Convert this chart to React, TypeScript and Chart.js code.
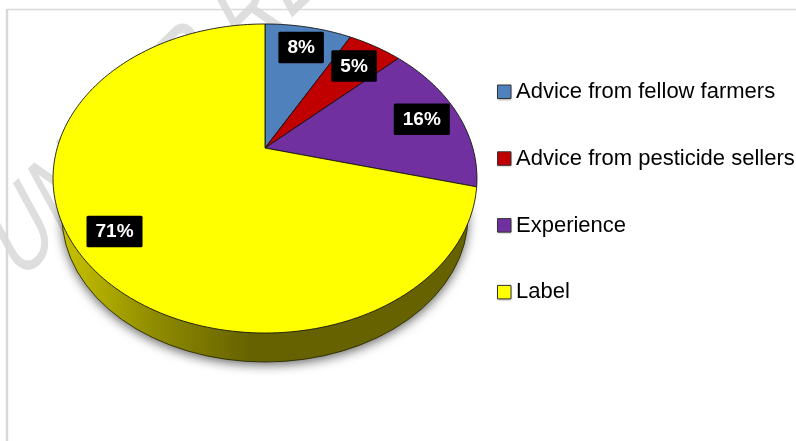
import React, { useEffect, useRef } from "react";
import { Chart, registerables } from "chart.js";

Chart.register(...registerables);

const categories = ["Advice from fellow farmers", "Advice from pesticide sellers", "Experience", "Label"];
const shares = [8, 5, 16, 71];
const sliceColors = ["#4f81bd", "#c00000", "#7030a0", "#ffff00"];
const labelRadii = [0.807, 0.785, 0.81, 0.825];
const watermarkText = "UNDER REVIEW";

// perspective view of the round pie top
const APEX_X = 265;
const APEX_Y = 148;
const PROJ_A = 207.8;
const PROJ_B = 148.5;
const PROJ_K = 0.1974;

function project(theta: number, r: number): [number, number] {
  const u = r * Math.sin(theta);
  const v = r * Math.cos(theta);
  const w = 1 + PROJ_K * v;
  return [APEX_X + (PROJ_A * u) / w, APEX_Y - (PROJ_B * v) / w];
}

const LEGEND_PAD = 44.8;
const LEGEND_FONT = 22;

const piePlugin = {
  id: "perspectivePie",
  beforeDraw(chart: any) {
    const { ctx } = chart;
    ctx.save();
    ctx.fillStyle = "#ffffff";
    ctx.fillRect(0, 0, chart.width, chart.height);
    // watermark
    ctx.transform(0.72 * 0.72, -0.7 * 0.72, 0.48, 0.88, 18, 284);
    ctx.fillStyle = "#dedede";
    ctx.font = "114px 'Liberation Sans'";
    ctx.textBaseline = "alphabetic";
    ctx.fillText(watermarkText, 0, 0);
    ctx.restore();
    // frame
    ctx.save();
    ctx.strokeStyle = "#d9d9d9";
    ctx.lineWidth = 1.5;
    ctx.beginPath();
    ctx.moveTo(796, 9.5);
    ctx.lineTo(7, 9.5);
    ctx.stroke();
    ctx.lineWidth = 2.5;
    ctx.beginPath();
    ctx.moveTo(7, 441);
    ctx.lineTo(7, 9);
    ctx.stroke();
    ctx.restore();
    const legend = chart.legend;
    legend.left = 497 - LEGEND_PAD;
    legend.top = 92 - LEGEND_FONT / 2 - LEGEND_PAD;
    legend.right = 900;
    legend.bottom = 600;
  },
  beforeDatasetsDraw(chart: any) {
    const { ctx } = chart;
    const arcs = chart.getDatasetMeta(0).data;
    // side wall
    ctx.save();
    const grad = ctx.createLinearGradient(60, 0, 250, 0);
    grad.addColorStop(0, "#c8c300");
    grad.addColorStop(0.5, "#8f8b00");
    grad.addColorStop(1, "#666200");
    ctx.shadowColor = "rgba(0,0,0,0.6)";
    ctx.shadowBlur = 11;
    ctx.shadowOffsetY = 3;
    ctx.fillStyle = grad;
    ctx.beginPath();
    ctx.ellipse(265, 216, 203, 146, 0, 0, Math.PI * 2);
    ctx.fill();
    ctx.shadowColor = "transparent";
    ctx.strokeStyle = "#2b2b00";
    ctx.lineWidth = 0.9;
    ctx.stroke();
    ctx.restore();
    // top slices
    arcs.forEach((arc: any, i: number) => {
      const a0 = arc.startAngle + Math.PI / 2;
      const a1 = arc.endAngle + Math.PI / 2;
      ctx.beginPath();
      ctx.moveTo(APEX_X, APEX_Y);
      const steps = Math.ceil((a1 - a0) * 40);
      for (let s = 0; s <= steps; s++) {
        const [x, y] = project(a0 + ((a1 - a0) * s) / steps, 1);
        ctx.lineTo(x, y);
      }
      ctx.closePath();
      ctx.fillStyle = sliceColors[i];
      ctx.fill();
      ctx.strokeStyle = "#141414";
      ctx.lineWidth = 0.9;
      ctx.lineJoin = "round";
      ctx.stroke();
    });
    // value labels
    arcs.forEach((arc: any, i: number) => {
      const mid = (arc.startAngle + arc.endAngle) / 2 + Math.PI / 2;
      const [x, y] = project(mid, labelRadii[i]);
      const text = shares[i] + "%";
      ctx.font = "bold 19px 'Liberation Sans'";
      const w = ctx.measureText(text).width + 18;
      const h = 31.5;
      ctx.fillStyle = "#000000";
      ctx.beginPath();
      ctx.roundRect(x - w / 2, y - h / 2, w, h, 1.5);
      ctx.fill();
      ctx.fillStyle = "#ffffff";
      ctx.textAlign = "center";
      ctx.textBaseline = "middle";
      ctx.fillText(text, x, y + 0.5);
    });
    return false;
  },
  afterDraw(chart: any) {
    const { ctx } = chart;
    const legend = chart.legend;
    categories.forEach((_, i) => {
      const x = legend.left + LEGEND_PAD;
      const y = legend.top + LEGEND_PAD + i * (LEGEND_FONT + LEGEND_PAD) + (LEGEND_FONT - 14) / 2 - 0.5;
      ctx.save();
      ctx.shadowColor = "rgba(0,0,0,0.35)";
      ctx.shadowBlur = 2;
      ctx.shadowOffsetY = 1;
      ctx.fillStyle = sliceColors[i];
      ctx.fillRect(x + 0.5, y + 0.5, 13.5, 13.5);
      ctx.shadowColor = "transparent";
      ctx.strokeStyle = "#333333";
      ctx.lineWidth = 1;
      ctx.strokeRect(x + 0.5, y + 0.5, 13.5, 13.5);
      ctx.restore();
    });
  },
};

export default function App() {
  const ref = useRef<HTMLCanvasElement>(null);
  useEffect(() => {
    const chart = new Chart(ref.current!, {
      type: "pie",
      data: {
        labels: categories,
        datasets: [{ data: shares, backgroundColor: sliceColors, borderWidth: 0 }],
      },
      options: {
        animation: false,
        responsive: false,
        plugins: {
          tooltip: { enabled: false },
          legend: {
            position: "right",
            align: "start",
            labels: {
              color: "#000000",
              font: { family: "'Liberation Sans'", size: LEGEND_FONT },
              boxWidth: 8,
              boxHeight: 14,
              padding: LEGEND_PAD,
              generateLabels: () =>
                categories.map((text, i) => ({
                  text,
                  index: i,
                  fillStyle: "rgba(0,0,0,0)",
                  strokeStyle: "rgba(0,0,0,0)",
                  lineWidth: 0,
                  hidden: false,
                })),
            },
          },
        },
      } as any,
      plugins: [piePlugin as any],
    });
    return () => chart.destroy();
  }, []);
  return (
    <canvas
      ref={ref}
      width={796}
      height={441}
      style={{ position: "absolute", left: 0, top: 0, width: 796, height: 441 }}
    />
  );
}
